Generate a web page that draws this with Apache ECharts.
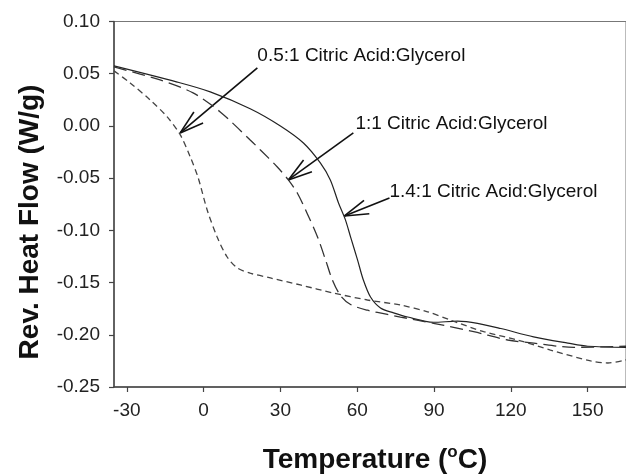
<!DOCTYPE html>
<html>
<head>
<meta charset="utf-8">
<script src="https://cdn.jsdelivr.net/npm/echarts@6/dist/echarts.min.js"></script>
<style>
  html, body { margin: 0; padding: 0; background: #fff; }
  #chart { width: 626px; height: 474px; }
</style>
</head>
<body>
<div id="chart"></div>
<script>
const xTicks = [-30, 0, 30, 60, 90, 120, 150];
const yTicks = [-0.25, -0.2, -0.15, -0.1, -0.05, 0, 0.05, 0.1];

// 1.4:1 Citric Acid:Glycerol (solid)
const tempSolid = [-35, -10.3, 2.6, 18.2, 30, 39, 45.6, 49.5, 52.7, 55.4, 57.4, 60.1, 62.4, 65.2, 69.1, 74.2, 79.7, 89.8, 99.2, 107, 116.1, 128.9, 142.3, 150.1, 165];
const flowSolid = [0.0575, 0.042, 0.0326, 0.0165, 0.0, -0.0163, -0.0354, -0.0517, -0.0738, -0.09, -0.1063, -0.128, -0.1475, -0.1638, -0.1743, -0.179, -0.183, -0.188, -0.187, -0.189, -0.194, -0.202, -0.208, -0.211, -0.212];

// 1:1 Citric Acid:Glycerol (long dash)
const tempLong = [-35, -17, -4.1, 6.5, 18.2, 22.2, 28.8, 33.1, 36.6, 40.5, 44.5, 47.6, 50.3, 53.5, 57.4, 64, 71.8, 76.9, 89.8, 105.5, 118.8, 129, 144.6, 165];
const flowLong = [0.0565, 0.044, 0.0316, 0.0134, -0.0134, -0.023, -0.0393, -0.0517, -0.0642, -0.084, -0.1063, -0.128, -0.1475, -0.1625, -0.171, -0.1765, -0.1805, -0.183, -0.189, -0.197, -0.205, -0.208, -0.212, -0.211];

// 0.5:1 Citric Acid:Glycerol (short dash)
const tempShort = [-35, -28.7, -20.9, -14.2, -9.1, -5.2, -2.1, 1.4, 5.3, 9.2, 13.2, 18.2, 26.1, 37.8, 50.7, 64, 76.9, 87.5, 96.5, 109.4, 122.7, 135.5, 151.2, 157.9, 165];
const flowShort = [0.0527, 0.0412, 0.0249, 0.0086, -0.0086, -0.0297, -0.0498, -0.0805, -0.1063, -0.1255, -0.136, -0.141, -0.1456, -0.1523, -0.16, -0.1667, -0.1715, -0.178, -0.186, -0.197, -0.205, -0.2146, -0.225, -0.227, -0.224];

// annotations: text, text anchor, arrow start, arrow tip
const noteText = ['0.5:1 Citric Acid:Glycerol', '1:1 Citric Acid:Glycerol', '1.4:1 Citric Acid:Glycerol'];
const noteX = [21.0, 59.3, 72.6];
const noteY = [0.067, 0.0019, -0.0632];
const arrowFromX = [21.0, 58.5, 72.6];
const arrowFromY = [0.0556, -0.0067, -0.069];
const arrowToX = [-9.15, 33.1, 55.0];
const arrowToY = [-0.0067, -0.0517, -0.0862];

const pair = (xs, ys) => xs.map((x, i) => [x, ys[i]]);
const font = '"Liberation Sans", Arial, sans-serif';

const chart = echarts.init(document.getElementById('chart'));

function renderArrow(params, api) {
  const s = api.coord([api.value(0), api.value(1)]);
  const t = api.coord([api.value(2), api.value(3)]);
  const p = api.coord([api.value(4), api.value(5)]);
  const ang = Math.atan2(s[1] - t[1], s[0] - t[0]);
  const L = 25, a = 0.29;
  const style = { stroke: '#111', lineWidth: 1.6 };
  return {
    type: 'group',
    children: [
      { type: 'line', shape: { x1: s[0], y1: s[1], x2: t[0], y2: t[1] }, style },
      { type: 'line', shape: { x1: t[0], y1: t[1], x2: t[0] + L * Math.cos(ang + a), y2: t[1] + L * Math.sin(ang + a) }, style },
      { type: 'line', shape: { x1: t[0], y1: t[1], x2: t[0] + L * Math.cos(ang - a), y2: t[1] + L * Math.sin(ang - a) }, style },
      {
        type: 'text',
        style: {
          text: noteText[params.dataIndex], x: p[0], y: p[1],
          font: '19px ' + font, fill: '#111',
          textAlign: 'left', textVerticalAlign: 'middle'
        }
      }
    ]
  };
}

chart.setOption({
  animation: false,
  backgroundColor: '#fff',
  grid: {
    left: 114, right: -2, top: 21.5, bottom: 87,
    show: true, borderColor: '#777', borderWidth: 1
  },
  xAxis: {
    type: 'value', min: -35, max: 165,
    axisLine: { show: true, onZero: false, lineStyle: { color: '#444', width: 1.5 } },
    axisTick: { show: true, length: 5, customValues: xTicks, lineStyle: { color: '#444', width: 1.2 } },
    axisLabel: { customValues: xTicks, margin: 14, color: '#222', fontSize: 19, fontFamily: font },
    splitLine: { show: false }
  },
  yAxis: {
    type: 'value', min: -0.25, max: 0.1,
    axisLine: { show: true, onZero: false, lineStyle: { color: '#444', width: 1.5 } },
    axisTick: { show: true, length: 5, customValues: yTicks, lineStyle: { color: '#444', width: 1.2 } },
    axisLabel: { customValues: yTicks, margin: 14, color: '#222', fontSize: 19, fontFamily: font,
      formatter: v => v.toFixed(2) },
    splitLine: { show: false }
  },
  graphic: [
    {
      type: 'text', x: 375, y: 460,
      style: {
        text: '{t|Temperature (}{s|o}{t|C)}',
        textAlign: 'center', textVerticalAlign: 'middle',
        rich: {
          t: { font: 'bold 28px ' + font, fill: '#111', lineHeight: 32 },
          s: { font: 'bold 17px ' + font, fill: '#111', verticalAlign: 'top', lineHeight: 32, padding: [0, 0, 14, 0] }
        }
      }
    },
    {
      type: 'text', x: 30, y: 222, rotation: Math.PI / 2,
      style: {
        text: 'Rev. Heat Flow (W/g)', font: 'bold 28px ' + font, fill: '#111',
        textAlign: 'center', textVerticalAlign: 'middle'
      }
    }
  ],
  series: [
    {
      name: '1.4:1', type: 'line', data: pair(tempSolid, flowSolid),
      showSymbol: false, smooth: 0.3,
      lineStyle: { color: '#222', width: 1.2 }
    },
    {
      name: '1:1', type: 'line', data: pair(tempLong, flowLong),
      showSymbol: false, smooth: 0.3,
      lineStyle: { color: '#333', width: 1.3, type: [13, 6] }
    },
    {
      name: '0.5:1', type: 'line', data: pair(tempShort, flowShort),
      showSymbol: false, smooth: 0.3,
      lineStyle: { color: '#444', width: 1.3, type: [6, 4] }
    },
    {
      type: 'custom', clip: false, renderItem: renderArrow,
      encode: { x: [0, 2, 4], y: [1, 3, 5] },
      data: noteText.map((_, i) => [arrowFromX[i], arrowFromY[i], arrowToX[i], arrowToY[i], noteX[i], noteY[i]])
    }
  ]
});
</script>
</body>
</html>
